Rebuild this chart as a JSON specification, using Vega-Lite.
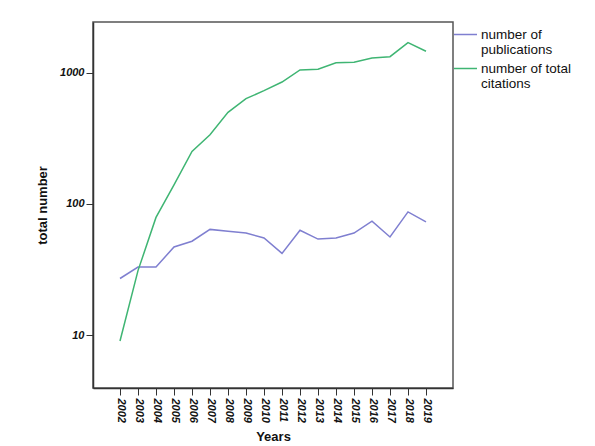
{
  "$schema": "https://vega.github.io/schema/vega-lite/v6.json",
  "autosize": "none",
  "width": 360,
  "height": 366,
  "padding": {"left": 93, "top": 22, "right": 142, "bottom": 58},
  "background": "white",
  "config": {
    "font": "Liberation Sans",
    "view": {"stroke": "#555555", "strokeWidth": 1.5},
    "style": {"guide-label": {"lineHeight": 15}}
  },
  "data": {
    "values": [
      {"year": 2002, "series": "number of publications", "value": 27},
      {"year": 2003, "series": "number of publications", "value": 33},
      {"year": 2004, "series": "number of publications", "value": 33},
      {"year": 2005, "series": "number of publications", "value": 47},
      {"year": 2006, "series": "number of publications", "value": 52},
      {"year": 2007, "series": "number of publications", "value": 64},
      {"year": 2008, "series": "number of publications", "value": 62},
      {"year": 2009, "series": "number of publications", "value": 60},
      {"year": 2010, "series": "number of publications", "value": 55},
      {"year": 2011, "series": "number of publications", "value": 42},
      {"year": 2012, "series": "number of publications", "value": 63},
      {"year": 2013, "series": "number of publications", "value": 54},
      {"year": 2014, "series": "number of publications", "value": 55},
      {"year": 2015, "series": "number of publications", "value": 60},
      {"year": 2016, "series": "number of publications", "value": 74},
      {"year": 2017, "series": "number of publications", "value": 56},
      {"year": 2018, "series": "number of publications", "value": 87},
      {"year": 2019, "series": "number of publications", "value": 73},
      {"year": 2002, "series": "number of total citations", "value": 9},
      {"year": 2003, "series": "number of total citations", "value": 31},
      {"year": 2004, "series": "number of total citations", "value": 79},
      {"year": 2005, "series": "number of total citations", "value": 140},
      {"year": 2006, "series": "number of total citations", "value": 252},
      {"year": 2007, "series": "number of total citations", "value": 338},
      {"year": 2008, "series": "number of total citations", "value": 501},
      {"year": 2009, "series": "number of total citations", "value": 637},
      {"year": 2010, "series": "number of total citations", "value": 733},
      {"year": 2011, "series": "number of total citations", "value": 853},
      {"year": 2012, "series": "number of total citations", "value": 1054},
      {"year": 2013, "series": "number of total citations", "value": 1067},
      {"year": 2014, "series": "number of total citations", "value": 1198},
      {"year": 2015, "series": "number of total citations", "value": 1207},
      {"year": 2016, "series": "number of total citations", "value": 1302},
      {"year": 2017, "series": "number of total citations", "value": 1332},
      {"year": 2018, "series": "number of total citations", "value": 1703},
      {"year": 2019, "series": "number of total citations", "value": 1465}
    ]
  },
  "mark": {"type": "line", "strokeWidth": 1.5},
  "encoding": {
    "x": {
      "field": "year",
      "type": "quantitative",
      "scale": {"domain": [2000.5, 2020.5], "nice": false, "zero": false},
      "axis": {
        "title": "Years",
        "titleFontSize": 13,
        "titleFontWeight": "bold",
        "titleColor": "#111111",
        "titlePadding": 8,
        "values": [2002, 2003, 2004, 2005, 2006, 2007, 2008, 2009, 2010, 2011, 2012, 2013, 2014, 2015, 2016, 2017, 2018, 2019],
        "format": "d",
        "labelAngle": 90,
        "labelAlign": "left",
        "labelBaseline": "middle",
        "labelFontSize": 11,
        "labelFontStyle": "italic",
        "labelFontWeight": "bold",
        "labelColor": "#111111",
        "labelPadding": 3,
        "labelFlush": false,
        "labelOverlap": false,
        "tickSize": 7,
        "tickColor": "#333333",
        "domainColor": "#333333",
        "domainWidth": 1.5,
        "grid": false
      }
    },
    "y": {
      "field": "value",
      "type": "quantitative",
      "scale": {"type": "log", "domain": [3.94, 2450], "nice": false},
      "axis": {
        "title": "total number",
        "titleFontSize": 13,
        "titleFontWeight": "bold",
        "titleColor": "#111111",
        "titlePadding": 10,
        "values": [10, 100, 1000],
        "format": "d",
        "labelFontSize": 11,
        "labelFontStyle": "italic",
        "labelFontWeight": "bold",
        "labelColor": "#111111",
        "labelPadding": 2,
        "tickSize": 7,
        "tickColor": "#333333",
        "domainColor": "#333333",
        "domainWidth": 1.5,
        "grid": false
      }
    },
    "color": {
      "field": "series",
      "type": "nominal",
      "scale": {
        "domain": ["number of publications", "number of total citations"],
        "range": ["#7f7fd0", "#3fb573"]
      },
      "legend": {
        "title": null,
        "orient": "none",
        "legendX": 360,
        "legendY": 0,
        "symbolType": "stroke",
        "symbolSize": 529,
        "symbolStrokeWidth": 1.5,
        "labelFontSize": 13.5,
        "labelColor": "#111111",
        "labelOffset": 3,
        "rowPadding": 0,
        "labelLimit": 200,
        "labelExpr": "datum.label == 'number of publications' ? ['number of', 'publications'] : ['number of total', 'citations']"
      }
    }
  }
}
